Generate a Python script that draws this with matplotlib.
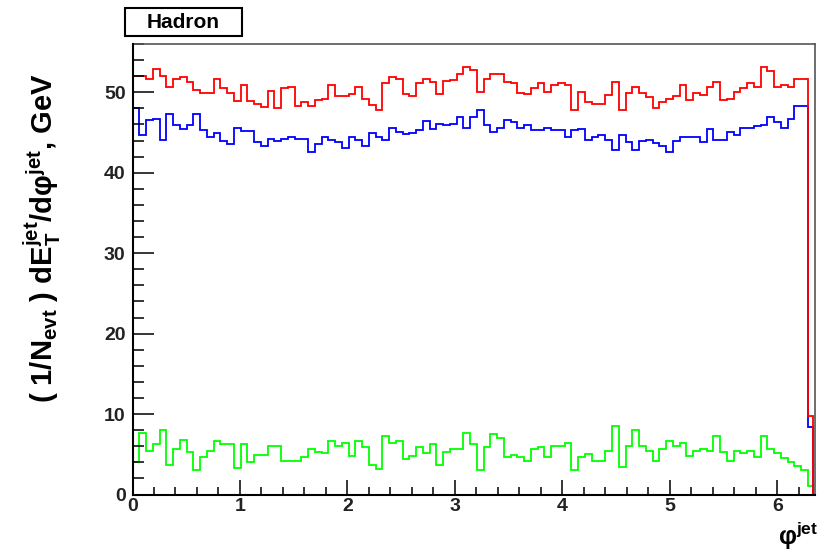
import numpy as np
import matplotlib
matplotlib.use("Agg")
import matplotlib.pyplot as plt
from matplotlib.ticker import MultipleLocator
from matplotlib.patches import Rectangle

plt.rcParams['font.family'] = ['Liberation Sans', 'DejaVu Sans']
plt.rcParams['mathtext.fontset'] = 'custom'
plt.rcParams['mathtext.rm'] = 'Liberation Sans:bold'
plt.rcParams['mathtext.it'] = 'Liberation Sans:bold'
plt.rcParams['mathtext.bf'] = 'Liberation Sans:bold'

# ---- data (per-bin values) ----
n_bins = 100
phi_hist_end = 6.33     # last (partial) bin ends here

red = [52.0, 52.0, 51.6, 52.9, 52.0, 50.7, 51.6, 51.9, 51.3, 50.3,
       49.9, 49.9, 51.6, 50.5, 49.9, 48.9, 50.9, 48.9, 48.6, 48.2,
       50.1, 48.0, 50.5, 50.6, 48.3, 48.8, 48.3, 49.0, 49.2, 50.9,
       49.5, 49.5, 49.8, 50.7, 49.2, 48.4, 47.8, 51.2, 51.9, 51.6,
       49.8, 49.5, 51.2, 51.6, 51.3, 49.8, 51.4, 51.5, 52.3, 53.2,
       52.8, 50.0, 51.7, 52.3, 52.3, 51.3, 51.1, 49.9, 49.8, 50.5,
       51.1, 50.0, 50.9, 51.1, 50.9, 47.8, 50.0, 48.8, 48.6, 48.6,
       49.6, 51.3, 47.8, 49.9, 50.6, 49.9, 49.4, 48.0, 48.8, 49.2,
       49.5, 50.9, 49.0, 49.9, 49.6, 50.7, 51.3, 49.0, 49.2, 50.0,
       50.5, 51.1, 50.6, 53.2, 52.7, 50.7, 50.9, 50.6, 51.6, 51.6,
       9.7]

blue = [48.0, 44.7, 46.5, 46.7, 44.1, 47.3, 45.9, 45.4, 45.9, 47.3,
        45.3, 44.4, 44.9, 44.0, 43.6, 45.5, 45.2, 45.2, 43.8, 43.3,
        44.2, 44.0, 44.2, 44.4, 44.2, 44.2, 42.6, 43.6, 44.4, 44.1,
        43.8, 43.1, 44.5, 44.1, 43.3, 44.9, 44.5, 44.1, 45.6, 45.1,
        44.8, 44.9, 45.3, 46.4, 45.4, 46.1, 45.9, 46.0, 46.9, 45.5,
        46.9, 47.8, 45.9, 45.1, 45.6, 46.6, 46.3, 45.6, 45.9, 45.3,
        45.3, 45.6, 45.3, 45.3, 44.4, 45.3, 45.4, 44.1, 44.5, 44.7,
        44.1, 42.8, 44.7, 43.8, 42.8, 43.9, 44.1, 43.7, 43.3, 42.6,
        43.9, 44.5, 44.4, 44.5, 43.8, 45.4, 44.1, 44.1, 45.1, 44.7,
        45.6, 45.6, 45.8, 45.9, 46.9, 46.3, 45.6, 46.7, 48.3, 48.3,
        8.4]

green = [4.1, 7.6, 5.4, 6.3, 8.0, 3.7, 5.7, 6.8, 5.3, 3.1,
         4.7, 5.4, 6.7, 6.3, 6.3, 3.3, 6.3, 4.0, 4.9, 4.9,
         6.0, 6.0, 4.2, 4.2, 4.2, 4.7, 5.6, 5.3, 5.1, 6.7,
         6.0, 6.4, 4.8, 6.7, 5.9, 3.7, 3.2, 7.3, 6.4, 6.7,
         4.4, 4.8, 5.9, 5.2, 6.3, 3.7, 5.3, 5.6, 5.7, 7.7,
         6.3, 3.0, 5.9, 7.5, 7.0, 4.7, 4.9, 4.7, 4.2, 5.6,
         5.9, 4.7, 6.0, 6.0, 6.4, 3.0, 4.6, 5.0, 4.2, 4.2,
         5.4, 8.5, 3.4, 6.0, 8.0, 6.0, 5.4, 4.2, 5.7, 6.7,
         6.0, 6.4, 4.8, 5.4, 5.6, 5.4, 7.3, 5.3, 4.2, 5.4,
         5.2, 5.4, 4.7, 7.3, 5.7, 5.2, 4.5, 4.0, 3.5, 3.0,
         1.0]

x_ticks = [0, 1, 2, 3, 4, 5, 6]
y_ticks = [0, 10, 20, 30, 40, 50]
title_text = "Hadron"

edges = np.append(np.linspace(0, 2 * np.pi, n_bins + 1), phi_hist_end)

fig = plt.figure(figsize=(8.19, 5.53), dpi=100)
ax = fig.add_axes([132.5 / 819, 1 - 494.5 / 553, 682 / 819, 450.5 / 553])

for vals, col in [(green, '#00ff00'), (blue, '#0000ff'), (red, '#ff0000')]:
    ax.stairs(vals, edges, baseline=0, color=col, lw=1.3)

ax.set_xlim(0, 6.345)
ax.set_ylim(0, 56.0)
ax.set_xticks(x_ticks)
ax.set_yticks(y_ticks)
ax.xaxis.set_minor_locator(MultipleLocator(0.2))
ax.yaxis.set_minor_locator(MultipleLocator(2))
ax.tick_params(axis='x', which='major', direction='in', length=10.5, width=1.1,
               labelsize=14, pad=2.5, top=False)
ax.tick_params(axis='x', which='minor', direction='in', length=5.8, width=1.1, top=False)
ax.tick_params(axis='y', which='major', direction='in', length=15, width=1.1,
               labelsize=14, pad=5, right=False)
ax.tick_params(axis='y', which='minor', direction='in', length=7.7, width=1.1, right=False)
for lab in ax.get_xticklabels() + ax.get_yticklabels():
    lab.set_fontweight('bold')
    lab.set_color('#222222')

for s in ['left', 'bottom']:
    ax.spines[s].set_linewidth(1.5)
    ax.spines[s].set_color('black')
    ax.spines[s].set_zorder(5)
for s in ['top', 'right']:
    ax.spines[s].set_linewidth(1.2)
    ax.spines[s].set_color('#555555')

# y label
fig.text(42 / 819, 1 - 238 / 553,
         r'( 1/N$_{\rm evt}$ ) dE$_{\rm T}^{\rm jet}$/dφ$^{\rm jet}$, GeV',
         rotation=90, ha='center', va='center', fontsize=21, fontweight='bold')

# x label
fig.text(818 / 819, 1 - 552 / 553, r'φ$^{\rm jet}$', ha='right', va='bottom',
         fontsize=18, fontweight='bold')

# title box
fig.patches.append(Rectangle((125 / 819, 1 - 36 / 553), 117 / 819, 28 / 553,
                             transform=fig.transFigure, facecolor='white',
                             edgecolor='black', lw=1.5))
fig.text(183.5 / 819, 1 - 22 / 553, title_text, ha='center', va='center',
         fontsize=15, fontweight='bold')

fig.savefig('out.png', dpi=100)
